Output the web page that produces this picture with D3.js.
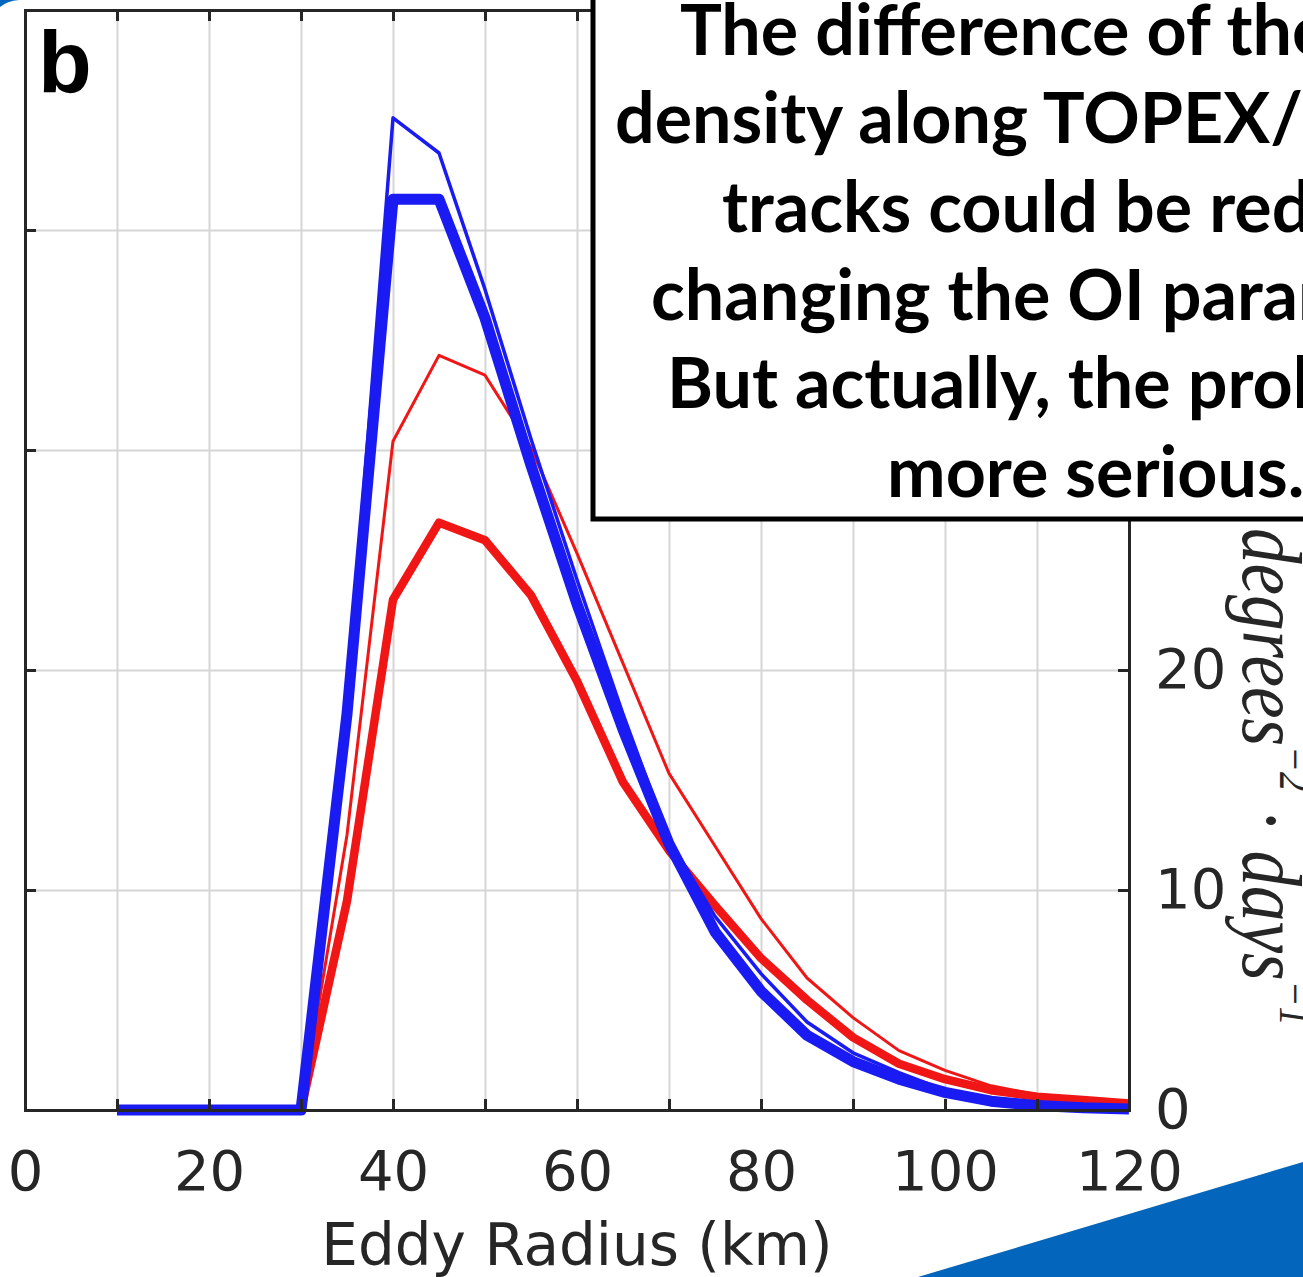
<!DOCTYPE html>
<html>
<head>
<meta charset="utf-8">
<script src="https://cdn.jsdelivr.net/npm/d3@7"></script>
<style>
  body { margin: 0; background: #fff; overflow: hidden; }
</style>
</head>
<body>
<script>
// eddy radius (km) sampled every 5 km
var radius = [10, 15, 20, 25, 30, 35, 40, 45, 50, 55, 60, 65, 70, 75, 80, 85, 90, 95, 100, 105, 110, 115, 120];
var blueThin  = [0, 0, 0, 0, 0, 18.5, 45.1, 43.5, 37.3, 30.5, 24.1, 18.0, 12.3, 8.8, 6.2, 4.0, 2.6, 1.7, 0.9, 0.5, 0.3, 0.15, 0.1];
var blueThick = [0, 0, 0, 0, 0, 18.0, 41.4, 41.4, 36.0, 29.3, 23.0, 17.3, 12.1, 8.1, 5.4, 3.4, 2.2, 1.4, 0.8, 0.4, 0.2, 0.1, 0.05];
var redThin   = [0, 0, 0, 0, 0, 12.5, 30.4, 34.3, 33.4, 30.1, 25.3, 20.3, 15.3, 12.0, 8.7, 6.0, 4.2, 2.7, 1.8, 1.1, 0.7, 0.5, 0.35];
var redThick  = [0, 0, 0, 0, 0, 9.5, 23.2, 26.7, 25.9, 23.4, 19.5, 14.9, 11.8, 9.3, 6.9, 5.0, 3.3, 2.1, 1.4, 0.9, 0.6, 0.45, 0.3];

var xTicks = [0, 10, 20, 30, 40, 50, 60, 70, 80, 90, 100, 110, 120];
var yTicks = [0, 10, 20, 30, 40, 50];
var yLabelled = [0, 10, 20]; // the rest sit behind the text box

var noteLines = [
  "The difference of the eddy",
  "density along TOPEX/Poseidon",
  "tracks could be reduced by",
  "changing the OI parameters.",
  "But actually, the problem is",
  "more serious."
];

var W = 1303, H = 1277;
var pLeft = 25, pRight = 1129, pTop = 10, pBottom = 1110;
var axisColor = "#262626";

var svg = d3.select('body')
  .append('svg')
  .attr("width", W)
  .attr("height", H)
  .style("display", "block");

var x = d3.scaleLinear().domain([0, 120]).range([pLeft, pRight]);
var y = d3.scaleLinear().domain([0, 50]).range([pBottom, pTop]);

// grid
svg.append("g")
  .attr("transform", "translate(0," + pBottom + ")")
  .call(d3.axisBottom(x).tickValues(xTicks.slice(1, -1)).tickSize(-(pBottom - pTop)).tickFormat(""))
  .call(g => g.select(".domain").remove())
  .selectAll("line").attr("stroke", "#d6d6d6").attr("stroke-width", 2);

svg.append("g")
  .attr("transform", "translate(" + pLeft + ",0)")
  .call(d3.axisLeft(y).tickValues(yTicks.slice(1, -1)).tickSize(-(pRight - pLeft)).tickFormat(""))
  .call(g => g.select(".domain").remove())
  .selectAll("line").attr("stroke", "#d6d6d6").attr("stroke-width", 2);

// lines
var line = d3.line()
  .x((d, i) => x(radius[i]))
  .y(d => y(d));

var series = [
  { v: redThin, c: "#f11616", w: 3 },
  { v: redThick, c: "#f11616", w: 8.5 },
  { v: blueThin, c: "#1a1af2", w: 3.5 },
  { v: blueThick, c: "#1a1af2", w: 11 }
];

svg.selectAll(".series")
  .data(series)
  .enter()
  .append("path")
  .attr("class", "series")
  .attr("d", d => line(d.v))
  .attr("fill", "none")
  .attr("stroke", d => d.c)
  .attr("stroke-width", d => d.w)
  .attr("stroke-linejoin", "round");

// axes, ticks pointing inward
var bottomAxis = svg.append("g")
  .attr("transform", "translate(0," + pBottom + ")")
  .call(d3.axisBottom(x).tickValues(xTicks).tickSize(-11).tickPadding(40)
    .tickFormat(d => d % 20 === 0 ? d : ""));

var topAxis = svg.append("g")
  .attr("transform", "translate(0," + pTop + ")")
  .call(d3.axisTop(x).tickValues(xTicks).tickSize(-11).tickFormat(""));

var leftAxis = svg.append("g")
  .attr("transform", "translate(" + pLeft + ",0)")
  .call(d3.axisLeft(y).tickValues(yTicks).tickSize(-11).tickFormat(""));

var rightAxis = svg.append("g")
  .attr("transform", "translate(" + pRight + ",0)")
  .call(d3.axisRight(y).tickValues(yTicks).tickSize(-11).tickPadding(26)
    .tickFormat(d => yLabelled.indexOf(d) >= 0 ? d : ""));

[bottomAxis, topAxis, leftAxis, rightAxis].forEach(function (g) {
  g.select(".domain").attr("stroke", axisColor).attr("stroke-width", 3);
  g.selectAll(".tick line").attr("stroke", axisColor).attr("stroke-width", 3);
  g.selectAll(".tick text")
    .attr("fill", axisColor)
    .style("font-family", "DejaVu Sans")
    .style("font-size", "56px");
});

// x label
svg.append("text")
  .attr("x", x(60))
  .attr("y", 1265)
  .attr("text-anchor", "middle")
  .attr("fill", axisColor)
  .style("font-family", "DejaVu Sans")
  .style("font-size", "58px")
  .text("Eddy Radius (km)");

// right y label (latex-ish)
var ylab = svg.append("text")
  .attr("fill", axisColor)
  .style("font-family", "Liberation Serif")
  .style("font-style", "italic")
  .style("font-size", "70px");
ylab.append("tspan").text("degrees");
ylab.append("tspan").style("font-size", "38px").attr("dy", -30).text("\u22122");
ylab.append("tspan").attr("dy", 30).style("font-style", "normal").text(" \u00b7 ");
ylab.append("tspan").text("days");
ylab.append("tspan").style("font-size", "38px").attr("dy", -30).text("\u22121");
var labW = ylab.node().getComputedTextLength();
ylab.attr("transform", "translate(1243,528) rotate(90) scale(" + (498 / labW) + ",1.22)");

// panel letter
svg.append("text")
  .attr("x", 38)
  .attr("y", 92)
  .attr("fill", "#000")
  .style("font-family", "Liberation Sans")
  .style("font-weight", "bold")
  .style("font-size", "88px")
  .text("b");

// text box on top
svg.append("rect")
  .attr("x", 593)
  .attr("y", -20)
  .attr("width", 800)
  .attr("height", 539)
  .attr("fill", "#fff")
  .attr("stroke", "#000")
  .attr("stroke-width", 5);

var lineStarts = [680, 615, 722, 651, 667, 887];
svg.selectAll(".note")
  .data(noteLines)
  .enter()
  .append("text")
  .attr("class", "note")
  .attr("x", (d, i) => lineStarts[i])
  .attr("y", (d, i) => 55 + i * 88.3)
  .attr("fill", "#000")
  .style("font-family", "Lato")
  .style("font-weight", "bold")
  .style("font-size", "70px")
  .text(d => d);

// slide decoration
svg.append("path")
  .attr("d", "M918,1277 L1303,1162 L1303,1277 Z")
  .attr("fill", "#0465bd");
svg.append("path")
  .attr("d", "M0,7 Q7,1 19,0 L0,0 Z")
  .attr("fill", "#0465bd");
</script>
</body>
</html>
